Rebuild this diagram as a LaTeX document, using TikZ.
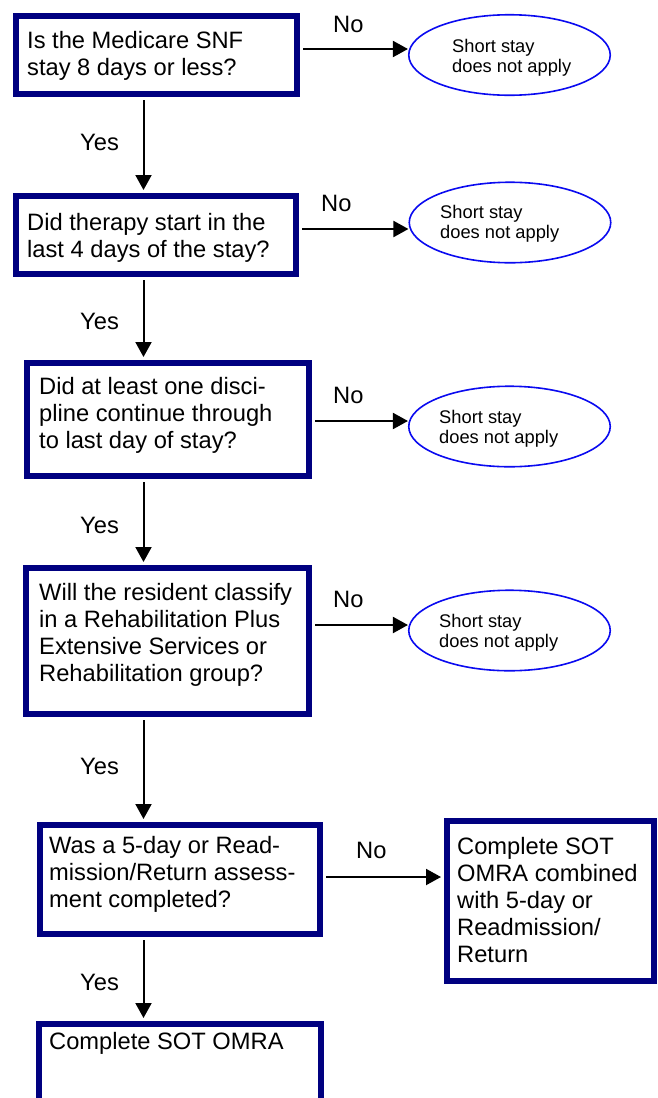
\documentclass[tikz,border=0pt]{standalone}
\usepackage{fontspec}
\setmainfont{Liberation Sans}
\usetikzlibrary{shapes.geometric,arrows.meta}
\definecolor{boxnavy}{RGB}{0,0,128}
\definecolor{ellblue}{RGB}{10,10,240}
\newcommand{\boxfont}{\fontsize{23.7}{27}\selectfont}
\newcommand{\ellfont}{\fontsize{18.3}{20.7}\selectfont}
\newcommand{\lines}[1]{\begin{tabular}[t]{@{}l@{}}#1\end{tabular}}
\begin{document}
\begin{tikzpicture}[x=1pt,y=-1pt,
  qbox/.style={draw=boxnavy, line width=6pt, fill=white, inner sep=0pt},
  ell/.style={ellipse, draw=ellblue, line width=1.6pt, fill=white, inner sep=0pt,
    minimum width=201.5pt, minimum height=80.5pt},
  qtext/.style={anchor=base west, inner sep=0pt, font=\boxfont},
  etext/.style={anchor=base west, inner sep=0pt, font=\ellfont},
  lab/.style={anchor=base west, inner sep=0pt, font=\boxfont},
  arr/.style={line width=2pt, -{Triangle[length=15pt,width=16pt]}, shorten <=3pt}]
\useasboundingbox (0,0) rectangle (657,1098);
\clip (0,0) rectangle (657,1098);
\fill[white] (0,0) rectangle (657,1098);

% question boxes
\node[qbox, minimum width=281.5pt, minimum height=78pt] (b1) at (156.25,55) {};
\node[qbox, minimum width=280pt, minimum height=78pt] (b2) at (156,235) {};
\node[qbox, minimum width=282pt, minimum height=113pt] (b3) at (168,419.5) {};
\node[qbox, minimum width=283pt, minimum height=146pt] (b4) at (167.5,641) {};
\node[qbox, minimum width=280pt, minimum height=109pt] (b5) at (180,879.5) {};
\node[qbox, minimum width=207pt, minimum height=160pt] (b6) at (550.5,901) {};
\node[qbox, minimum width=282pt, minimum height=86pt] (b7) at (180,1067) {};

% texts
\node[qtext] (t1) at (27,48) {\lines{Is the Medicare SNF\\stay 8 days or less?}};
\node[qtext] (t2) at (27,230) {\lines{Did therapy start in the\\last 4 days of the stay?}};
\node[qtext] (t3) at (39,394) {\lines{Did at least one disci-\\pline continue through\\to last day of stay?}};
\node[qtext] (t4) at (39,600) {\lines{Will the resident classify\\in a Rehabilitation Plus\\Extensive Services or\\Rehabilitation group?}};
\node[qtext] (t5) at (49,853) {\lines{Was a 5-day or Read-\\mission/Return assess-\\ment completed?}};
\node[qtext] (t6) at (457,854) {\lines{Complete SOT\\OMRA combined\\with 5-day or\\Readmission/\\Return}};
\node[qtext] (t7) at (49,1049) {Complete SOT OMRA};

% ellipses
\node[ell] (e1) at (509.5,55) {};
\node[ell] (e2) at (510,222.5) {};
\node[ell] (e3) at (509.5,426.5) {};
\node[ell] (e4) at (509.5,630.5) {};
\node[etext] (et1) at (452,52) {\lines{Short stay\\does not apply}};
\node[etext] (et2) at (440,218) {\lines{Short stay\\does not apply}};
\node[etext] (et3) at (439,423) {\lines{Short stay\\does not apply}};
\node[etext] (et4) at (439,627) {\lines{Short stay\\does not apply}};

% connector levels
\coordinate (h1) at (0,49);
\coordinate (h2) at (0,229);
\coordinate (h3) at (0,421);
\coordinate (h4) at (0,625);
\coordinate (h5) at (0,877);
\coordinate (vx) at (143.5,0);

% No connectors
\draw[arr] (b1.east |- h1) -- (e1.west |- h1);
\draw[arr] (b2.east |- h2) -- (e2.west |- h2);
\draw[arr] (b3.east |- h3) -- (e3.west |- h3);
\draw[arr] (b4.east |- h4) -- (e4.west |- h4);
\draw[arr, shorten >=3pt] (b5.east |- h5) -- (b6.west |- h5);

% Yes connectors
\draw[arr, shorten >=3pt] (b1.south -| vx) -- (b2.north -| vx);
\draw[arr, shorten >=3pt] (b2.south -| vx) -- (b3.north -| vx);
\draw[arr, shorten >=3pt] (b3.south -| vx) -- (b4.north -| vx);
\draw[arr, shorten >=3pt] (b4.south -| vx) -- (b5.north -| vx);
\draw[arr, shorten >=3pt] (b5.south -| vx) -- (b7.north -| vx);

% labels
\node[lab] (n1) at (333,32) {No};
\node[lab] (n2) at (321,211) {No};
\node[lab] (n3) at (333,403) {No};
\node[lab] (n4) at (333,607) {No};
\node[lab] (n5) at (356,858) {No};
\node[lab] (y1) at (80,150) {Yes};
\node[lab] (y2) at (80,329) {Yes};
\node[lab] (y3) at (80,533) {Yes};
\node[lab] (y4) at (80,774) {Yes};
\node[lab] (y5) at (80,990) {Yes};
\end{tikzpicture}
\end{document}
